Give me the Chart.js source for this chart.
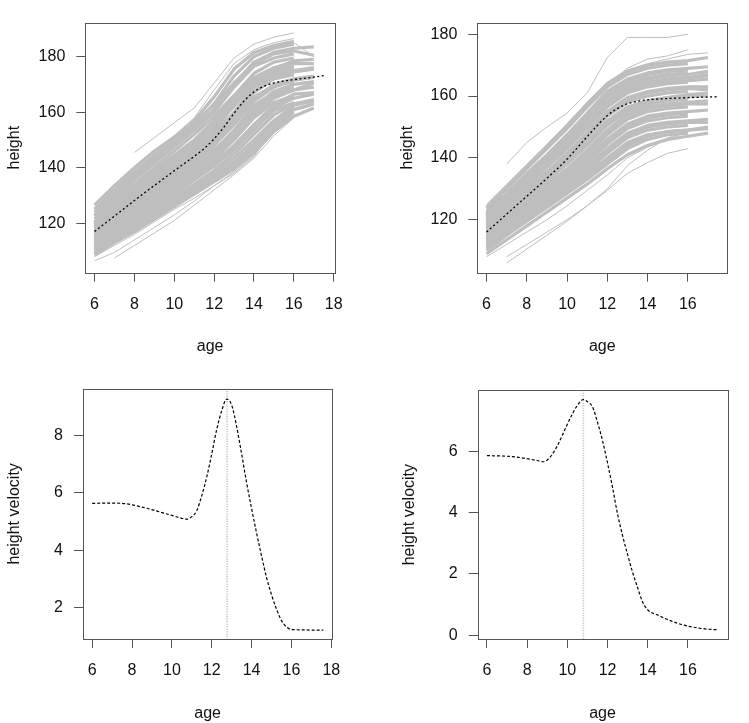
<!DOCTYPE html>
<html lang="en">
<head>
  <meta charset="UTF-8">
  <title>Height and height velocity</title>
  <script src="https://cdn.jsdelivr.net/npm/chart.js"></script>
  <style>
    body { margin: 0; background: #fff; }
    #wrap { position: relative; width: 749px; height: 723px; }
    canvas { position: absolute; }
  </style>
</head>
<body>
  <div id="wrap">
    <canvas id="boysHeight" width="375" height="362" style="left:0;top:0"></canvas>
    <canvas id="girlsHeight" width="374" height="362" style="left:375px;top:0"></canvas>
    <canvas id="boysVel" width="375" height="361" style="left:0;top:362px"></canvas>
    <canvas id="girlsVel" width="374" height="361" style="left:375px;top:362px"></canvas>
  </div>

  <script>
    // measurement ages for the individual growth curves
    const ageGrid = [6, 7, 8, 9, 10, 11, 12, 13, 14, 15, 16, 17];

    // boys: individual curves (null = not measured)
    const boysEdgeHeights = [
      [null, null, 145.5, 150.8, 156.2, 161.5, 170.5, 179.5, 184.5, 187.0, 188.5, null],
      [125.5, 132.5, 139.5, 145.5, 151.5, 158.0, 168.0, 177.5, 182.5, 185.0, 186.5, null],
      [null, 107.5, 112.0, 116.5, 121.0, 126.5, 132.0, 137.5, 143.5, 151.5, 158.0, null],
      [106.5, 109.5, 114.0, 118.5, 123.0, 128.0, 133.5, 138.5, 144.5, 152.5, 159.0, null],
      [108.0, 112.0, 116.0, 120.5, 125.0, 129.0, 133.5, 138.0, 144.0, 154.0, 160.5, 162.5],
      [124.5, 131.5, 138.0, 144.0, 150.0, 156.0, 163.5, 172.5, 179.5, 183.5, 185.0, 180.0]
    ];
    const boysCoreHeights = [
      [125.0, 132.0, 138.5, 144.5, 150.5, 157.0, 165.5, 175.5, 181.5, 184.0, 185.5, null],
      [124.0, 131.0, 137.5, 143.5, 149.5, 155.5, 163.0, 173.0, 180.0, 183.0, 184.5, null],
      [123.0, 130.0, 136.5, 142.5, 148.5, 154.5, 161.0, 170.0, 178.0, 181.5, 183.0, 183.5],
      [126.5, 133.5, 140.0, 146.0, 151.0, 156.5, 162.5, 170.5, 177.5, 181.0, 182.0, 180.5],
      [122.5, 129.0, 135.5, 141.5, 147.5, 153.5, 160.0, 169.0, 176.5, 179.5, 181.0, null],
      [121.5, 128.0, 134.0, 140.0, 146.0, 152.0, 158.5, 166.0, 174.0, 178.0, 179.5, null],
      [120.5, 127.0, 133.0, 139.0, 144.5, 150.0, 157.0, 165.5, 172.5, 176.0, 177.5, 177.5],
      [120.0, 126.5, 132.5, 138.5, 144.0, 149.5, 156.0, 163.5, 171.0, 175.5, 178.5, 179.0],
      [119.5, 125.5, 131.5, 137.5, 143.0, 149.0, 155.0, 162.0, 170.5, 175.0, 176.5, null],
      [119.0, 125.0, 131.0, 137.0, 142.5, 148.0, 155.0, 164.0, 172.0, 176.0, 178.0, null],
      [118.5, 124.5, 130.5, 136.0, 141.5, 147.0, 152.5, 160.0, 169.0, 173.5, 175.0, 176.0],
      [118.0, 124.0, 130.0, 135.5, 141.0, 146.5, 153.5, 162.5, 170.0, 174.0, 176.0, null],
      [117.5, 123.5, 129.0, 134.5, 140.0, 145.5, 151.5, 159.0, 167.0, 172.0, 173.5, null],
      [117.0, 122.5, 128.0, 133.5, 139.0, 144.0, 149.5, 156.0, 164.5, 170.0, 172.0, 173.0],
      [116.5, 122.0, 127.5, 133.0, 138.5, 144.0, 150.5, 158.5, 167.5, 172.5, 174.5, 175.5],
      [116.0, 121.5, 127.0, 132.0, 137.5, 143.0, 149.0, 157.5, 165.5, 169.5, 171.0, null],
      [115.5, 121.0, 126.0, 131.0, 136.0, 141.0, 146.5, 153.0, 161.5, 167.5, 170.0, 171.0],
      [115.0, 120.5, 126.0, 131.0, 136.5, 142.0, 148.0, 155.5, 164.0, 169.0, 171.5, 172.5],
      [114.5, 120.0, 125.0, 130.0, 135.0, 140.5, 146.0, 153.5, 162.5, 167.0, 168.5, null],
      [114.0, 119.0, 124.0, 129.0, 134.0, 139.0, 144.5, 150.5, 158.5, 165.0, 168.0, 169.0],
      [113.5, 119.0, 124.5, 129.5, 134.5, 139.5, 145.0, 152.0, 160.5, 166.5, 169.0, null],
      [113.0, 118.5, 123.5, 128.5, 133.5, 138.5, 144.0, 151.0, 159.5, 165.5, 168.0, 170.5],
      [113.0, 118.0, 123.0, 128.0, 133.0, 138.0, 143.0, 150.0, 158.0, 163.5, 166.0, null],
      [112.5, 117.5, 122.5, 127.0, 132.0, 137.0, 142.0, 148.0, 155.5, 162.0, 165.0, 166.5],
      [112.0, 116.5, 121.5, 126.0, 130.5, 135.5, 140.5, 146.5, 154.0, 160.5, 163.5, null],
      [111.5, 117.0, 122.0, 126.5, 131.5, 136.5, 141.5, 147.5, 155.5, 162.5, 166.5, 167.0],
      [111.0, 116.5, 121.5, 126.0, 131.0, 136.0, 141.0, 146.5, 153.5, 161.0, 165.5, null],
      [111.0, 116.0, 120.5, 125.0, 129.5, 134.0, 139.0, 145.0, 152.0, 159.0, 163.0, 164.5],
      [110.5, 115.0, 119.5, 124.0, 128.5, 133.0, 138.0, 143.5, 150.0, 157.0, 162.0, null],
      [110.0, 114.5, 119.0, 123.0, 127.5, 132.0, 137.0, 142.0, 148.5, 155.5, 161.0, 163.0],
      [109.5, 114.0, 118.5, 123.0, 127.0, 131.5, 136.5, 141.5, 148.5, 156.5, 162.5, 164.0],
      [109.0, 113.5, 118.0, 122.5, 126.5, 131.0, 135.5, 140.5, 147.0, 154.0, 160.0, null],
      [108.5, 113.0, 117.0, 121.5, 126.0, 130.5, 135.0, 139.5, 145.5, 153.0, 158.5, 161.5]
    ];

    // girls: individual curves
    const girlsEdgeHeights = [
      [null, 138.0, 145.0, 150.0, 154.5, 161.0, 172.5, 179.0, 179.0, 179.0, 180.0, null],
      [125.0, 131.5, 138.0, 144.5, 151.0, 158.0, 164.5, 168.5, 170.5, 172.0, 173.5, 174.0],
      [null, 106.0, 110.5, 115.0, 119.5, 124.5, 129.5, 135.0, 138.5, 141.5, 143.0, null],
      [108.0, 112.0, 116.0, 120.0, 124.5, 129.5, 134.5, 140.0, 143.5, 146.0, 148.5, null],
      [null, 108.0, 112.0, 116.0, 120.0, 124.5, 130.0, 137.5, 142.5, 146.5, 148.5, null],
      [124.5, 131.0, 137.5, 144.0, 150.5, 157.0, 164.0, 169.0, 172.0, 173.0, 175.0, null]
    ];
    const girlsCoreHeights = [
      [124.0, 130.5, 137.0, 143.5, 150.5, 157.5, 164.0, 168.0, 170.0, 171.0, 171.5, 172.5],
      [123.5, 130.0, 136.5, 143.0, 149.5, 156.5, 163.0, 167.0, 169.0, 170.0, 170.5, null],
      [122.5, 128.5, 135.0, 141.0, 147.5, 154.5, 161.5, 165.5, 167.5, 168.5, 169.0, 169.5],
      [122.0, 128.0, 134.5, 140.5, 147.0, 154.0, 160.5, 165.0, 167.0, 168.0, 168.5, null],
      [121.5, 127.5, 133.5, 139.5, 146.0, 153.0, 159.5, 164.0, 166.0, 167.0, 167.5, null],
      [121.0, 127.0, 133.0, 139.0, 145.5, 152.0, 159.0, 163.5, 165.5, 166.5, 167.0, 168.0],
      [120.5, 126.5, 132.5, 138.5, 144.5, 151.0, 158.0, 162.5, 164.5, 165.5, 166.0, 166.5],
      [120.0, 126.0, 132.0, 138.0, 144.0, 150.5, 157.0, 161.5, 163.5, 164.5, 165.0, 165.5],
      [119.5, 125.0, 131.0, 137.0, 143.0, 149.5, 156.5, 161.0, 163.0, 164.0, 164.5, null],
      [119.0, 125.0, 131.0, 137.0, 143.0, 150.0, 157.5, 162.0, 164.0, 165.5, 166.0, 167.0],
      [118.5, 124.0, 130.0, 135.5, 141.5, 148.0, 155.0, 159.5, 161.5, 162.5, 163.0, 163.0],
      [118.0, 123.5, 129.5, 135.0, 141.0, 147.5, 154.5, 159.0, 161.0, 162.0, 162.5, 162.0],
      [117.5, 123.0, 128.5, 134.5, 140.0, 146.5, 153.5, 158.0, 160.0, 161.0, 161.5, null],
      [117.0, 122.5, 128.0, 133.5, 139.0, 145.0, 152.0, 156.5, 158.5, 159.5, 160.0, 160.0],
      [116.5, 122.0, 127.5, 133.0, 138.5, 145.0, 151.5, 156.0, 158.5, 159.5, 160.5, 161.0],
      [116.0, 121.5, 127.0, 132.5, 138.0, 144.0, 150.5, 155.0, 157.5, 158.5, 159.0, null],
      [115.5, 121.0, 126.0, 131.5, 136.5, 142.5, 149.0, 154.0, 156.5, 157.5, 158.0, 158.5],
      [115.0, 120.5, 126.0, 131.0, 136.0, 142.0, 148.5, 153.5, 156.0, 157.0, 157.5, 157.5],
      [114.5, 120.0, 125.5, 130.5, 135.5, 141.0, 147.5, 152.5, 155.0, 156.0, 156.5, null],
      [114.0, 119.0, 124.5, 129.5, 134.5, 140.0, 146.0, 151.0, 153.5, 154.5, 155.0, 155.5],
      [113.5, 119.0, 124.0, 129.0, 134.0, 139.5, 145.5, 150.5, 153.0, 154.0, 154.5, null],
      [113.0, 118.5, 123.5, 128.5, 133.5, 138.5, 144.5, 149.5, 152.0, 153.0, 153.5, null],
      [112.5, 117.5, 122.5, 127.5, 132.5, 137.5, 143.0, 148.0, 150.5, 151.5, 152.0, 152.5],
      [112.0, 117.0, 122.0, 127.0, 132.0, 137.0, 142.5, 147.5, 150.0, 151.0, 151.5, 151.5],
      [111.5, 116.5, 121.5, 126.5, 131.0, 136.0, 141.5, 146.5, 149.0, 150.0, 150.5, null],
      [111.0, 116.0, 120.5, 125.5, 130.0, 135.0, 140.0, 145.0, 147.5, 148.5, 149.0, 150.0],
      [110.5, 115.5, 120.0, 124.5, 129.0, 134.0, 139.0, 144.0, 147.0, 148.5, 149.0, 149.5],
      [110.0, 115.0, 119.5, 124.0, 128.5, 133.0, 138.0, 143.0, 146.0, 147.5, 148.0, null],
      [109.0, 113.5, 118.0, 122.5, 127.0, 131.5, 136.5, 141.0, 144.0, 146.0, 147.0, 148.0]
    ];

    // mean (smoothed) height curves
    const boysMeanAges = [6, 7, 8, 9, 10, 11, 11.5, 12, 12.5, 13, 13.5, 14, 14.5, 15, 15.5, 16, 17, 17.6];
    const boysMean = [117.0, 122.6, 128.2, 133.6, 138.9, 144.1, 146.9, 150.4, 154.7, 159.6, 164.0, 167.3, 169.3, 170.5, 171.2, 171.7, 172.6, 173.3];
    const girlsMeanAges = [6, 7, 8, 9, 10, 10.5, 11, 11.5, 12, 12.5, 13, 13.5, 14, 15, 16, 17, 17.5];
    const girlsMean = [116.0, 121.8, 127.6, 133.4, 139.6, 143.2, 146.9, 150.5, 153.7, 156.0, 157.5, 158.3, 158.8, 159.2, 159.5, 159.7, 159.8];

    // height velocity curves
    const boysVelAges = [6, 7, 7.5, 8, 8.5, 9, 9.5, 10, 10.5, 10.75, 11, 11.25, 11.5, 11.75, 12, 12.25, 12.5, 12.75, 13, 13.25, 13.5, 13.75, 14, 14.25, 14.5, 14.75, 15, 15.25, 15.5, 15.75, 16, 16.5, 17, 17.6];
    const boysVel = [5.63, 5.64, 5.63, 5.58, 5.50, 5.41, 5.31, 5.21, 5.11, 5.08, 5.17, 5.38, 5.90, 6.55, 7.35, 8.20, 8.85, 9.26, 9.05, 8.30, 7.35, 6.35, 5.45, 4.60, 3.80, 3.05, 2.45, 1.95, 1.55, 1.33, 1.24, 1.23, 1.22, 1.22];
    const girlsVelAges = [6, 7, 7.5, 8, 8.5, 8.8, 9, 9.25, 9.5, 9.75, 10, 10.25, 10.5, 10.8, 11, 11.25, 11.5, 11.75, 12, 12.25, 12.5, 12.75, 13, 13.25, 13.5, 13.75, 14, 14.5, 15, 15.5, 16, 16.5, 17, 17.5];
    const girlsVel = [5.86, 5.84, 5.81, 5.76, 5.70, 5.66, 5.72, 5.90, 6.18, 6.52, 6.88, 7.22, 7.50, 7.69, 7.62, 7.45, 6.95, 6.35, 5.62, 4.82, 3.95, 3.25, 2.63, 2.05, 1.55, 1.08, 0.83, 0.66, 0.51, 0.39, 0.30, 0.24, 0.20, 0.18];

    // age at peak velocity
    const boysPeakAge = 12.77;
    const girlsPeakAge = 10.8;

    // tick labels
    const boysAgeTicks = [6, 8, 10, 12, 14, 16, 18];
    const girlsAgeTicks = [6, 8, 10, 12, 14, 16];
    const heightTicks = [120, 140, 160, 180];
    const boysVelTicks = [2, 4, 6, 8];
    const girlsVelTicks = [0, 2, 4, 6];

    const FONT = 'Liberation Sans, Arial, Helvetica, sans-serif';
    const AXIS_COL = '#555';
    const CURVE_COL = '#bebebe';

    function toPoints(ages, vals) {
      return vals.map((v, i) => v == null ? null : { x: ages[i], y: v }).filter(p => p);
    }

    // mean goes first so it is painted on top of the grey curves
    function heightSets(meanAges, mean, edge, core) {
      const sets = [{
        data: toPoints(meanAges, mean), borderColor: '#000', borderWidth: 1.3,
        borderDash: [2, 2.5], cubicInterpolationMode: 'monotone'
      }];
      core.forEach(row => sets.push({
        data: toPoints(ageGrid, row), borderColor: CURVE_COL, borderWidth: 3.2,
        borderJoinStyle: 'round', tension: 0
      }));
      edge.forEach(row => sets.push({
        data: toPoints(ageGrid, row), borderColor: CURVE_COL, borderWidth: 1, tension: 0
      }));
      return sets;
    }

    // box around the plot area + optional vertical line at peak age
    const boxPlugin = {
      id: 'box',
      beforeDatasetsDraw(chart, args, opts) {
        if (opts.peak == null) return;
        const { ctx, chartArea } = chart;
        const x = chart.scales.x.getPixelForValue(opts.peak);
        ctx.save();
        ctx.strokeStyle = opts.peakColor;
        ctx.lineWidth = opts.peakWidth;
        ctx.setLineDash([1, 1.5]);
        ctx.beginPath();
        ctx.moveTo(x, chartArea.top);
        ctx.lineTo(x, chartArea.bottom);
        ctx.stroke();
        ctx.restore();
      },
      afterDraw(chart) {
        const { ctx, chartArea: a } = chart;
        ctx.save();
        ctx.strokeStyle = AXIS_COL;
        ctx.lineWidth = 1;
        ctx.strokeRect(Math.round(a.left) + 0.5, Math.round(a.top) + 0.5,
          Math.round(a.right - a.left), Math.round(a.bottom - a.top));
        ctx.restore();
      }
    };

    function makePanel(id, g, xr, yr, xTicks, yTicks, yTitle, datasets, peak) {
      new Chart(document.getElementById(id), {
        type: 'line',
        data: { datasets: datasets },
        plugins: [boxPlugin],
        options: {
          responsive: false,
          animation: false,
          events: [],
          elements: { point: { radius: 0 } },
          layout: { padding: { left: 0, top: g.top, right: g.right, bottom: 0 } },
          plugins: {
            legend: { display: false },
            tooltip: { enabled: false },
            box: peak || {}
          },
          scales: {
            x: {
              type: 'linear', min: xr[0], max: xr[1],
              afterBuildTicks: s => { s.ticks = xTicks.map(v => ({ value: v })); },
              afterFit: s => { s.height = g.bottom; },
              grid: { drawOnChartArea: false, drawTicks: true, tickLength: 9, color: AXIS_COL },
              border: { display: false },
              ticks: { color: '#111', padding: 13, maxRotation: 0, font: { family: FONT, size: 16 } },
              title: { display: true, text: 'age', color: '#111', padding: { top: 0, bottom: g.titleB },
                font: { family: FONT, size: 16 } }
            },
            y: {
              type: 'linear', min: yr[0], max: yr[1],
              afterBuildTicks: s => { s.ticks = yTicks.map(v => ({ value: v })); },
              afterFit: s => { s.width = g.left; },
              grid: { drawOnChartArea: false, drawTicks: true, tickLength: 9, color: AXIS_COL },
              border: { display: false },
              ticks: { color: '#111', padding: 11, font: { family: FONT, size: 16 } },
              title: { display: true, text: yTitle, color: '#111', padding: { top: g.titleL, bottom: 0 },
                font: { family: FONT, size: 16 } }
            }
          }
        }
      });
    }

    // panel 1: boys heights
    makePanel('boysHeight', { left: 85.3, top: 22.7, right: 40, bottom: 89.3, titleB: 5.4, titleL: 5.4 },
      [5.536, 18.064], [102.2, 192.2], boysAgeTicks, heightTicks, 'height',
      heightSets(boysMeanAges, boysMean, boysEdgeHeights, boysCoreHeights));

    // panel 2: girls heights
    makePanel('girlsHeight', { left: 102.3, top: 22.7, right: 21.7, bottom: 89.3, titleB: 5.4, titleL: 23.4 },
      [5.54, 17.96], [102.85, 183.75], girlsAgeTicks, heightTicks, 'height',
      heightSets(girlsMeanAges, girlsMean, girlsEdgeHeights, girlsCoreHeights));

    // panel 3: boys velocity
    makePanel('boysVel', { left: 83, top: 26.7, right: 42.7, bottom: 84, titleB: 0, titleL: 5.4 },
      [5.54, 18.05], [0.91, 9.62], boysAgeTicks, boysVelTicks, 'height velocity', [{
        data: toPoints(boysVelAges, boysVel), borderColor: '#000', borderWidth: 1.2,
        borderDash: [3, 2], cubicInterpolationMode: 'monotone'
      }], { peak: boysPeakAge, peakColor: '#888', peakWidth: 1 });

    // panel 4: girls velocity
    makePanel('girlsVel', { left: 102.7, top: 28.3, right: 21.7, bottom: 84, titleB: 0, titleL: 25.4 },
      [5.54, 17.96], [-0.12, 7.99], girlsAgeTicks, girlsVelTicks, 'height velocity', [{
        data: toPoints(girlsVelAges, girlsVel), borderColor: '#000', borderWidth: 1.2,
        borderDash: [3, 2], cubicInterpolationMode: 'monotone'
      }], { peak: girlsPeakAge, peakColor: '#bbb', peakWidth: 1.5 });
  </script>
</body>
</html>
